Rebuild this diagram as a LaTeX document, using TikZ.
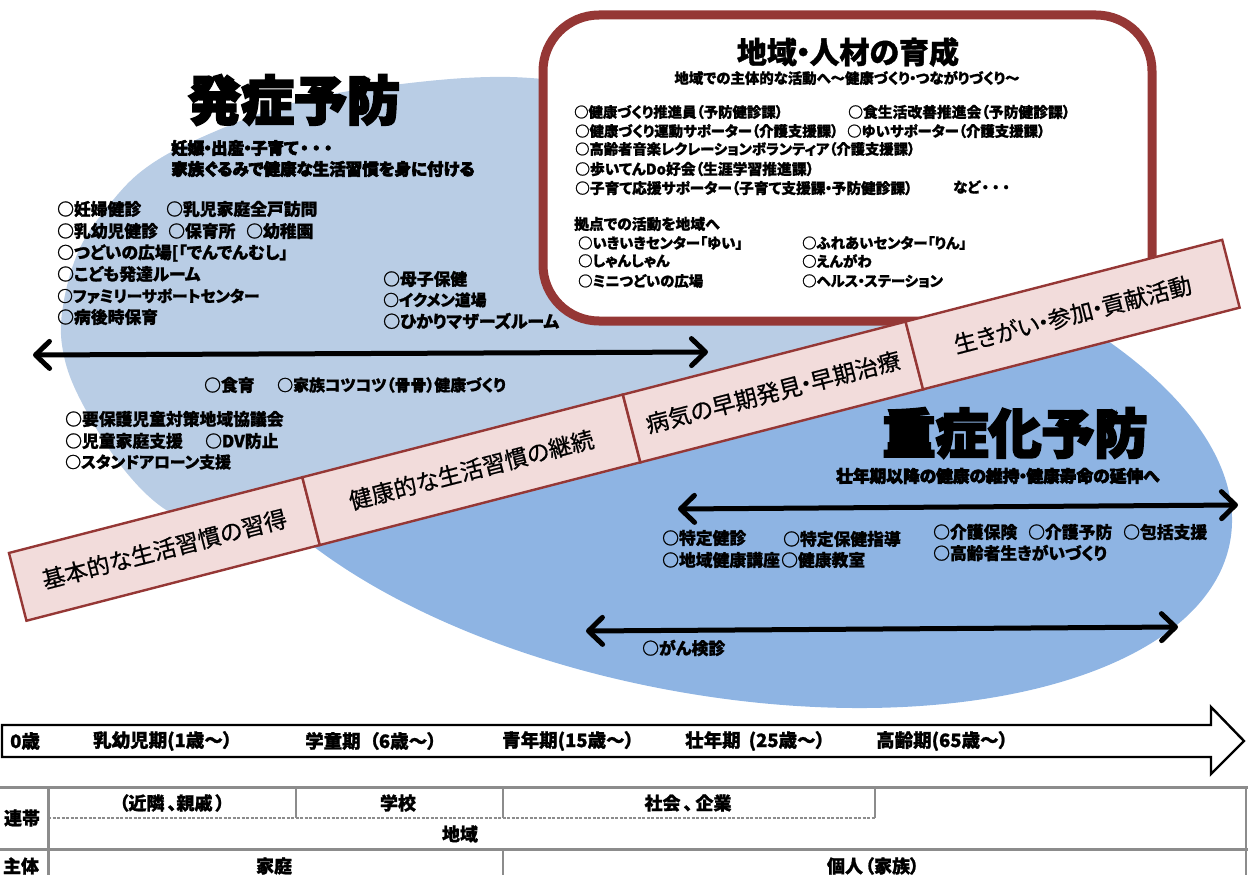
\documentclass[tikz,border=0pt]{standalone}
\usepackage{fontspec}
\usetikzlibrary{arrows.meta}
\setmainfont{Noto Sans CJK JP}[RawFeature=+palt]
\newfontfamily\heavy{Noto Sans CJK JP}[RawFeature=+palt,BoldFeatures={FakeBold=4}]
\newfontfamily\semi{Noto Sans CJK JP}[RawFeature=+palt,BoldFeatures={FakeBold=1.2}]
\newfontfamily\medf{Noto Sans CJK JP}[RawFeature=+palt,FakeBold=.7]
\definecolor{lightb}{HTML}{B9CDE5}
\definecolor{darkb}{HTML}{8EB4E3}
\definecolor{redl}{HTML}{953735}
\definecolor{pinkf}{HTML}{F2DCDB}
\definecolor{greyl}{HTML}{8C8C8C}
\newcommand{\nd}{\makebox[.42em][c]{・}}
\newcommand{\ndw}{\makebox[.72em][c]{・}}
\tikzset{
 txt/.style={inner sep=0pt,font=\fontsize{#1}{#1}\selectfont\semi\bfseries,anchor=west},
 item/.style={txt=16.8},
 boxitem/.style={txt=14.4},
 htxt/.style={inner sep=0pt,anchor=west,font=\fontsize{#1}{#1}\selectfont\heavy\bfseries},
 bandbox/.style={draw=redl,fill=pinkf,line width=2.4pt,rotate=14.47,minimum height=70pt,inner sep=0pt,font=\fontsize{23}{23}\selectfont\medf},
 dbl/.style={line width=5pt,line cap=round,{Straight Barb[round,length=14pt,width=27pt]}-{Straight Barb[round,length=14pt,width=27pt]}},
 tline/.style={draw=greyl,line width=3pt},
 ctxt/.style={inner sep=0pt,font=\fontsize{18}{18}\selectfont\semi\bfseries},
}
\begin{document}
\begin{tikzpicture}[x=1pt,y=-1pt]
\useasboundingbox (0,0) rectangle (1248,875);
% blobs
\fill[darkb,rotate around={-10.2:(718,449)}] (718,449) ellipse [x radius=520.4pt,y radius=245.9pt];
\fill[lightb] plot[smooth,tension=.6] coordinates {(640,90)(510,77)(393,85)(293,103)(200,138)(143,170)(105,210)(79,250)(64,300)(62,345)(78,395)(122,467)(171,513)(230,530)} -- (920,350) -- (900,300) -- cycle;
% box
\node[draw=redl,fill=white,line width=9pt,rounded corners=56pt,minimum width=609pt,minimum height=306pt,inner sep=0pt] (areabox) at (847.5,168) {};
% band
\node[bandbox,minimum width=303pt] (b1) at (164.4,549) {基本的な生活習慣の習得};
\node[bandbox,minimum width=331pt] (b2) at (471.3,469.8) {健康的な生活習慣の継続};
\node[bandbox,minimum width=292pt] (b3) at (773,392) {病気の早期発見\nd 早期治療};
\node[bandbox,minimum width=327pt] (b4) at (1072.6,314.6) {生きがい\nd 参加\nd 貢献活動};
% titles
\node[inner sep=0pt,font=\fontsize{53}{53}\selectfont\heavy\bfseries] (t1) at (294,100) {発症予防};
\node[inner sep=0pt,font=\fontsize{53}{53}\selectfont\heavy\bfseries] (t2) at (1015,433) {重症化予防};
\node[htxt=16.5] (s1) at (171,148) {妊娠\nd 出産\nd 子育て\ndw\ndw\ndw};
\node[htxt=16.5] (s2) at (171,169) {家族ぐるみで健康な生活習慣を身に付ける};
\node[htxt=16.7] (s3) at (836,476) {壮年期以降の健康の維持\nd 健康寿命の延伸へ};
\node[inner sep=0pt,font=\fontsize{30}{30}\selectfont\semi\bfseries] (t3) at (848,52) {地域\nd 人材の育成};
\node[inner sep=0pt,font=\fontsize{14.4}{14.4}\selectfont\semi\bfseries] (s4) at (847,78) {地域での主体的な活動へ～健康づくり\nd つながりづくり～};
% left items
\node[item] (i1) at (57,209) {○妊婦健診};
\node[item] (i2) at (166,209) {○乳児家庭全戸訪問};
\node[item] (i3) at (57,231) {○乳幼児健診};
\node[item] (i4) at (168,231) {○保育所};
\node[item] (i5) at (246,231) {○幼稚園};
\node[item] (i6) at (57,253) {○つどいの広場[「でんでんむし」};
\node[item] (i7) at (57,274) {○こども発達ルーム};
\node[txt=15.7] (i8) at (57,296) {○ファミリーサポートセンター};
\node[item] (i9) at (57,317) {○病後時保育};
\node[item] (i10) at (383,279) {○母子保健};
\node[txt=15.8] (i11) at (383,300) {○イクメン道場};
\node[txt=17] (i12) at (383,321) {○ひかりマザーズルーム};
\node[item] (i13) at (204,385) {○食育};
\node[txt=15.9] (i14) at (277,385) {○家族コツコツ（骨骨）健康づくり};
\node[item] (i15) at (65,419) {○要保護児童対策地域協議会};
\node[item] (i16) at (65,441) {○児童家庭支援};
\node[item] (i17) at (205,441) {○DV防止};
\node[txt=15.9] (i18) at (65,462) {○スタンドアローン支援};
% right items
\node[item] (r1) at (662,538) {○特定健診};
\node[item] (r2) at (783,539) {○特定保健指導};
\node[item] (r3) at (662,560) {○地域健康講座};
\node[item] (r4) at (781,560) {○健康教室};
\node[item] (r5) at (933,532) {○介護保険};
\node[item] (r6) at (1028,532) {○介護予防};
\node[item] (r7) at (1123,532) {○包括支援};
\node[item] (r8) at (933,553) {○高齢者生きがいづくり};
\node[item] (r9) at (642,648) {○がん検診};
% box items
\node[boxitem] (a1) at (574,112) {○健康づくり推進員（予防健診課）};
\node[txt=14.8] (a2) at (848,112) {○食生活改善推進会（予防健診課）};
\node[boxitem] (a3) at (575,131) {○健康づくり運動サポーター（介護支援課）};
\node[boxitem] (a4) at (847,131) {○ゆいサポーター（介護支援課）};
\node[txt=14.3] (a5) at (575,149) {○高齢者音楽レクレーションボランティア（介護支援課）};
\node[txt=14.8] (a6) at (575,169) {○歩いてんDo好会（生涯学習推進課）};
\node[txt=14.7] (a7) at (575,188) {○子育て応援サポーター（子育て支援課\nd 予防健診課）};
\node[boxitem] (a8) at (953,187) {など\ndw\ndw\ndw};
\node[txt=14.8] (a9) at (574,224) {拠点での活動を地域へ};
\node[boxitem] (a10) at (578,243) {○いきいきセンター「ゆい」};
\node[boxitem] (a11) at (578,261) {○しゃんしゃん};
\node[boxitem] (a12) at (578,281) {○ミニつどいの広場};
\node[boxitem] (a13) at (802,243) {○ふれあいセンター「りん」};
\node[boxitem] (a14) at (802,261) {○えんがわ};
\node[boxitem] (a15) at (802,281) {○ヘルス\nd ステーション};
% arrows
\coordinate (p1) at (33,355); \coordinate (p2) at (708,352);
\coordinate (p3) at (678,509); \coordinate (p4) at (1238,505);
\coordinate (p5) at (586,631); \coordinate (p6) at (1178,627);
\draw[dbl] (p1) -- (p2);
\draw[dbl] (p3) -- (p4);
\draw[dbl] (p5) -- (p6);
% timeline
\draw[black,fill=white,line width=2.4pt,line join=miter] (2,725) -- (1211,725) -- (1211,707) -- (1244,741) -- (1211,774) -- (1211,757) -- (2,757) -- cycle;
\node[txt=18.5] (y0) at (10,741) {0歳};
\node[txt=18.5] (y1) at (93,741) {乳幼児期(1歳～）};
\node[txt=18.5] (y2) at (305,741) {学童期\hspace{9pt}（6歳～）};
\node[txt=18.5] (y3) at (502,741) {青年期(15歳～）};
\node[txt=18.5] (y4) at (685,741) {壮年期\hspace{8pt}(25歳～）};
\node[txt=18.5] (y5) at (876,741) {高齢期(65歳～）};
% table
\coordinate (g1) at (0,787); \coordinate (g2) at (1248,787);
\coordinate (g3) at (0,849); \coordinate (g4) at (1248,849);
\coordinate (c1) at (48,787); \coordinate (c2) at (48,875);
\coordinate (c3) at (296,787); \coordinate (c4) at (296,818);
\coordinate (c5) at (503,787); \coordinate (c6) at (503,818);
\coordinate (c7) at (875,787); \coordinate (c8) at (875,818);
\coordinate (c9) at (503,849); \coordinate (c10) at (503,875);
\coordinate (c11) at (1246,787); \coordinate (c12) at (1246,875);
\coordinate (d1) at (48,818); \coordinate (d2) at (875,818);
\draw[tline] (g1) -- (g2);
\draw[tline] (g3) -- (g4);
\draw[tline] (c1) -- (c2);
\draw[tline,line width=2.2pt] (c3) -- (c4);
\draw[tline,line width=2.2pt] (c5) -- (c6);
\draw[tline,line width=2.2pt] (c7) -- (c8);
\draw[tline,line width=2.2pt] (c9) -- (c10);
\draw[tline,line width=2.2pt] (c11) -- (c12);
\draw[greyl,line width=1.2pt,dash pattern=on 3pt off 1.5pt] (d1) -- (d2);
\node[ctxt] (k1) at (22,818) {連帯};
\node[ctxt] (k2) at (21,866) {主体};
\node[ctxt] (k3) at (172,803) {（近隣\hspace{3pt}、親戚\hspace{3pt}）};
\node[ctxt] (k4) at (398,803) {学校};
\node[ctxt] (k5) at (688,803) {社会\hspace{3pt}、\hspace{3pt}企業};
\node[ctxt] (k6) at (460,834) {地域};
\node[ctxt] (k7) at (274,866) {家庭};
\node[ctxt] (k8) at (873,866) {個人\hspace{2pt}（家族）};
\end{tikzpicture}
\end{document}
